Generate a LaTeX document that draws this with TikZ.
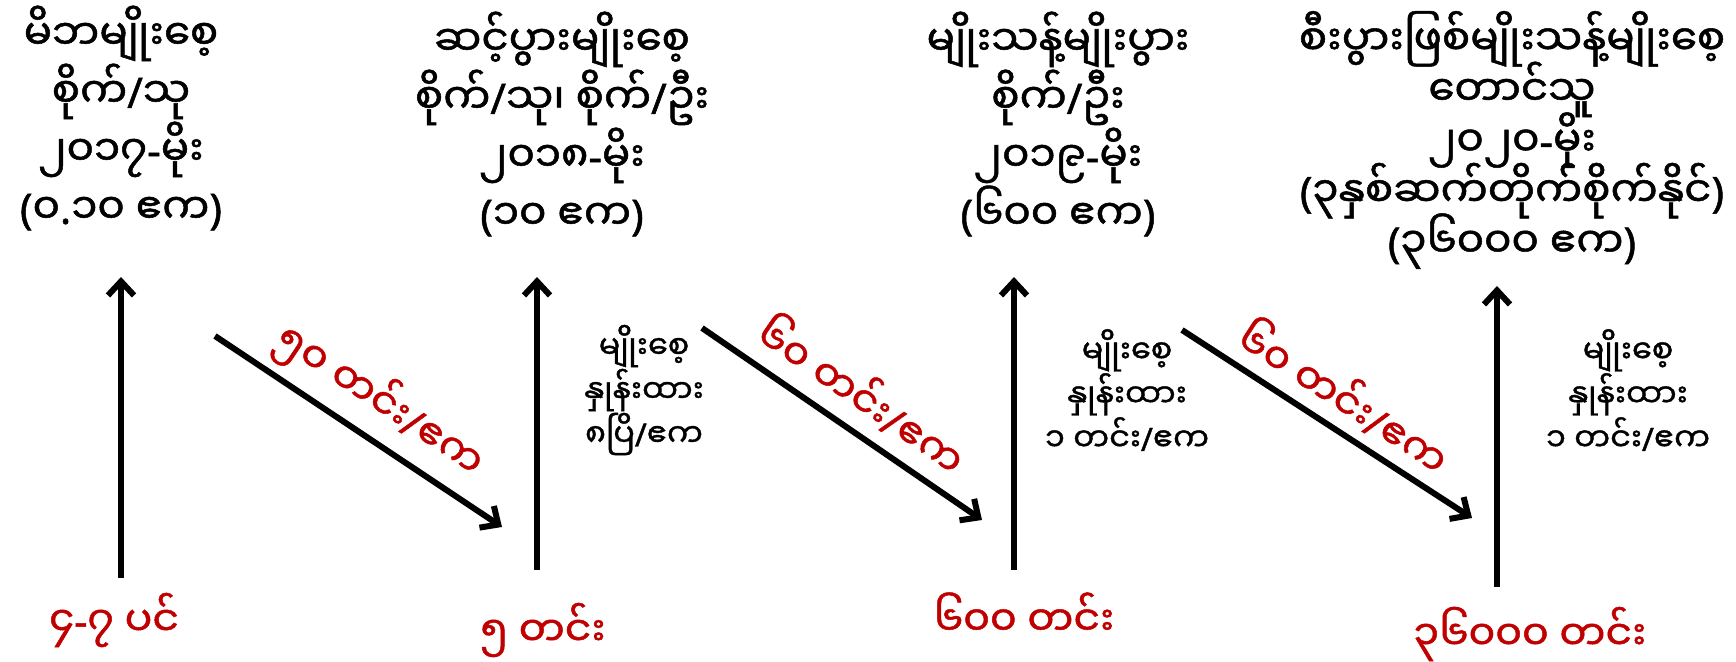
\documentclass[tikz,border=0pt]{standalone}
\usepackage{fontspec}
\newfontfamily\mm[Script=Myanmar,FakeBold=1.2]{Noto Sans Myanmar UI}
\newfontfamily\latf[FakeBold=1.2]{Noto Sans}
\newcommand\punc[1]{{\latf #1}}
\usetikzlibrary{arrows.meta}
\definecolor{lblred}{RGB}{192,0,0}
\lineskiplimit=-100pt\relax
\begin{document}
\begin{tikzpicture}[x=0.5pt,y=-0.5pt,
  toptext/.style={font=\mm\fontsize{21}{29}\selectfont, align=center, inner sep=0pt},
  toptextb/.style={font=\mm\fontsize{21}{25.3}\selectfont, align=center, inner sep=0pt},
  ratetext/.style={font=\mm\fontsize{16}{22}\selectfont, align=center, inner sep=0pt},
  redtext/.style={font=\mm\fontsize{20.5}{24}\selectfont, text=lblred, inner sep=0pt},
  arr/.style={line width=3pt, -{Straight Barb[length=7pt,width=13pt]}}]
\useasboundingbox (0,0) rectangle (1736,662);
% top texts
\node[toptext] (t1) at (121,118) {မိဘမျိုးစေ့\\စိုက်\punc{/}သု\\၂၀၁၇\punc{-}မိုး\\\punc{(}၀\punc{.}၁၀ ဧက\punc{)}};
\node[toptext] (t2) at (562,124) {ဆင့်ပွားမျိုးစေ့\\စိုက်\punc{/}သု၊ စိုက်\punc{/}ဦး\\၂၀၁၈\punc{-}မိုး\\\punc{(}၁၀ ဧက\punc{)}};
\node[toptext] (t3) at (1058,124) {မျိုးသန့်မျိုးပွား\\စိုက်\punc{/}ဦး\\၂၀၁၉\punc{-}မိုး\\\punc{(}၆၀၀ ဧက\punc{)}};
\node[toptextb] (t4) at (1512,140) {စီးပွားဖြစ်မျိုးသန့်မျိုးစေ့\\တောင်သူ\\၂၀၂၀\punc{-}မိုး\\\punc{(}၃နှစ်ဆက်တိုက်စိုက်နိုင်\punc{)}\\\punc{(}၃၆၀၀၀ ဧက\punc{)}};
% bottom texts
\node[redtext] (b1) at (114,620) {၄\punc{-}၇ ပင်};
\node[redtext] (b2) at (543,630) {၅ တင်း};
\node[redtext] (b3) at (1024,614) {၆၀၀ တင်း};
\node[redtext] (b4) at (1530,634) {၃၆၀၀၀ တင်း};
% seed rate texts
\node[ratetext] (s1) at (644,390) {မျိုးစေ့\\နှုန်းထား\\၈ပြိ\punc{/}ဧက};
\node[ratetext] (s2) at (1127,390) {မျိုးစေ့\\နှုန်းထား\\၁ တင်း\punc{/}ဧက};
\node[ratetext] (s3) at (1628,390) {မျိုးစေ့\\နှုန်းထား\\၁ တင်း\punc{/}ဧက};
% yield labels
\node[redtext, rotate=-33.6] (r1) at (380,400) {၅၀ တင်း\punc{/}ဧက};
\node[redtext, rotate=-34.6] (r2) at (863,393) {၆၀ တင်း\punc{/}ဧက};
\node[redtext, rotate=-33] (r3) at (1345,395) {၆၀ တင်း\punc{/}ဧက};
% arrow end points
\coordinate (v1s) at (121,578); \coordinate (v1e) at (121,277);
\coordinate (v2s) at (537,570); \coordinate (v2e) at (537,277);
\coordinate (v3s) at (1014,570); \coordinate (v3e) at (1014,277);
\coordinate (v4s) at (1497,587); \coordinate (v4e) at (1497,286);
\coordinate (d1s) at (215,336); \coordinate (d1e) at (502,527);
\coordinate (d2s) at (702,328); \coordinate (d2e) at (982,520);
\coordinate (d3s) at (1182,330); \coordinate (d3e) at (1472,518);
\draw[arr] (v1s) -- (v1e);
\draw[arr] (v2s) -- (v2e);
\draw[arr] (v3s) -- (v3e);
\draw[arr] (v4s) -- (v4e);
\draw[arr] (d1s) -- (d1e);
\draw[arr] (d2s) -- (d2e);
\draw[arr] (d3s) -- (d3e);
\end{tikzpicture}
\end{document}
